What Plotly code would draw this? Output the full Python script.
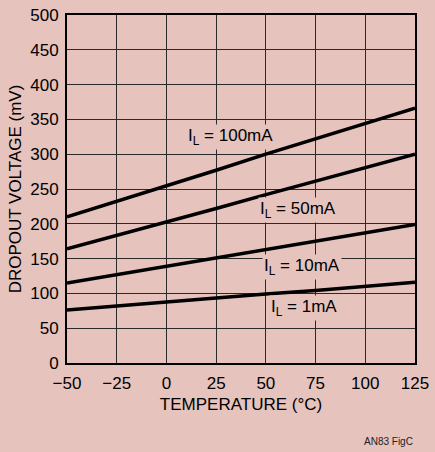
import plotly.graph_objects as go

# temperature (degC) and dropout voltage (mV)
temperature = [-50, -25, 0, 25, 50, 75, 100, 125]
drop_100ma = [210, 232, 255, 277, 300, 322, 344, 366]
drop_50ma = [164, 183, 203, 222, 242, 261, 281, 300]
drop_10ma = [115, 127, 139, 151, 164, 176, 188, 199]
drop_1ma = [76, 82, 87, 93, 99, 104, 110, 116]

series = [drop_100ma, drop_50ma, drop_10ma, drop_1ma]
labels = ["I<sub>L</sub> = 100mA", "I<sub>L</sub> = 50mA",
          "I<sub>L</sub> = 10mA", "I<sub>L</sub> = 1mA"]
label_x = [32, 66, 68, 69]
label_y = [325, 220, 138, 79]

x_ticks = [-50, -25, 0, 25, 50, 75, 100, 125]
x_tick_text = ["\u221250", "\u221225", "0", "25", "50", "75", "100", "125"]

BG = "#E6C3BD"
FONT = "Liberation Sans, Arial, sans-serif"

fig = go.Figure()

for ys in series:
    fig.add_trace(go.Scatter(x=temperature, y=ys, mode="lines",
                             line=dict(color="black", width=3.5),
                             showlegend=False, hoverinfo="skip"))

for txt, lx, ly in zip(labels, label_x, label_y):
    fig.add_annotation(x=lx, y=ly, text=txt, showarrow=False,
                       bgcolor=BG, borderpad=1,
                       font=dict(family=FONT, size=17, color="black"))

# small figure code, bottom right
fig.add_annotation(x=1.0, y=-0.225, xref="paper", yref="paper",
                   xanchor="right", yanchor="middle", showarrow=False,
                   text="AN83 FigC", font=dict(family=FONT, size=10, color="#222"))

fig.update_layout(
    width=435, height=452,
    margin=dict(l=67, r=20, t=15, b=89, autoexpand=False),
    paper_bgcolor=BG, plot_bgcolor=BG,
    font=dict(family=FONT, size=17, color="black"),
)

fig.update_xaxes(range=[-50, 125], tickvals=x_ticks, ticktext=x_tick_text,
                 showgrid=True, gridcolor="#2a2a2a", gridwidth=1.3,
                 showline=True, linecolor="black", linewidth=2, mirror=True,
                 zeroline=False, ticks="", ticklen=0, ticklabelstandoff=4,
                 title=dict(text="TEMPERATURE (\u00b0C)", standoff=6,
                            font=dict(family=FONT, size=17)))
fig.update_yaxes(range=[0, 500], dtick=50,
                 showgrid=True, gridcolor="#2a2a2a", gridwidth=1.3,
                 showline=True, linecolor="black", linewidth=2, mirror=True,
                 zeroline=False, ticks="", ticklen=0, ticklabelstandoff=3,
                 title=dict(text="DROPOUT VOLTAGE (mV)", standoff=4,
                            font=dict(family=FONT, size=17)))

fig.write_html("out.html", config={"displayModeBar": False},
               post_script="document.body.style.margin='0';")
